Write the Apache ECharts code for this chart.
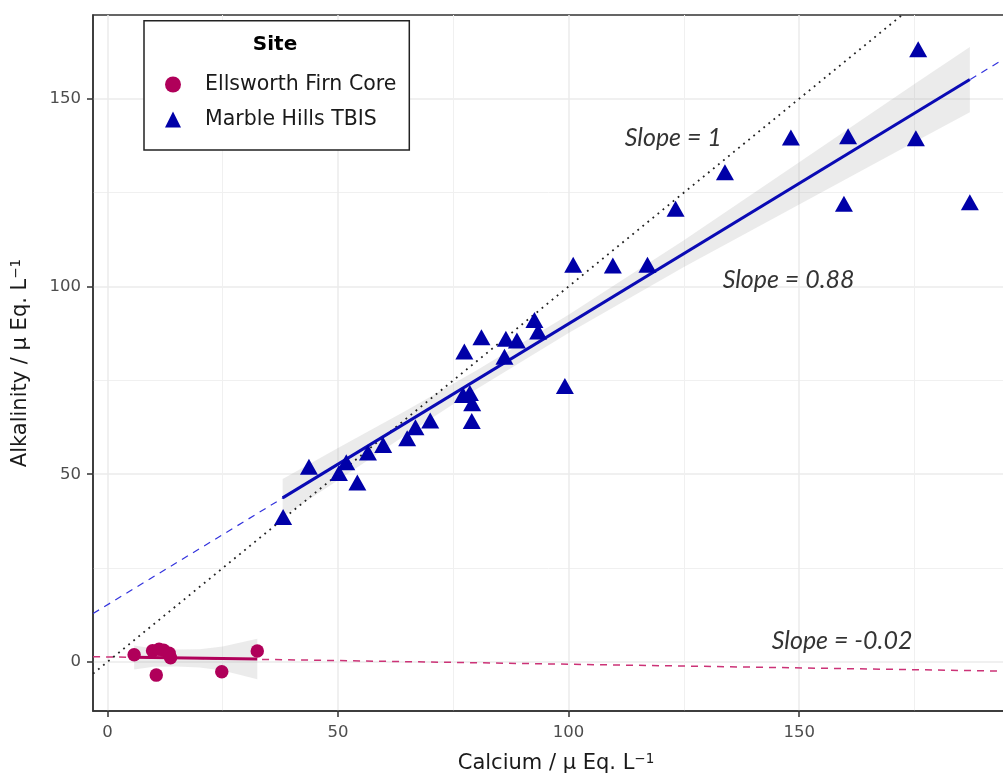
<!DOCTYPE html>
<html>
<head>
<meta charset="utf-8">
<script src="https://cdn.jsdelivr.net/npm/echarts@6/dist/echarts.min.js"></script>
<style>
html,body{margin:0;padding:0;background:#fff}
#chart{width:1003px;height:776px}
</style>
</head>
<body>
<div id="chart"></div>
<script>
// Ellsworth Firn Core samples
var firnCa  = [5.8, 9.8, 11.2, 12.2, 13.4, 13.7, 10.6, 24.8, 32.5];
var firnAlk = [1.9, 3.0, 3.4, 3.1, 2.3, 1.1, -3.5, -2.6, 2.9];

// Marble Hills TBIS samples
var tbisCa  = [38.1, 43.7, 51.8, 50.2, 54.2, 56.5, 59.8, 65.0, 66.8, 70.0, 77.4, 81.1, 77.1, 78.6, 79.1, 79.0,
               86.1, 86.4, 88.8, 92.6, 93.4, 99.2, 101.0, 109.6, 117.1, 123.2, 133.9, 148.2, 160.6, 159.7, 175.3, 175.8, 187.0];
var tbisAlk = [38.6, 52.0, 53.2, 50.3, 47.8, 55.8, 57.8, 59.6, 62.5, 64.3, 82.7, 86.5, 71.1, 71.6, 68.9, 64.2,
               81.3, 86.1, 85.6, 91.1, 88.0, 73.5, 105.8, 105.6, 105.8, 120.7, 130.4, 139.7, 140.0, 122.0, 139.5, 163.2, 122.4];

// fitted lines (solid over the data, dashed extension across the panel)
var firnFitX = [5.8, 32.5],   firnFitY = [1.25, 0.8];
var firnExtX = [-3.1, 197.6], firnExtY = [1.4, -2.5];
var tbisFitX = [38, 187],     tbisFitY = [43.7, 155.1];
var tbisExtX = [-3.1, 197.6], tbisExtY = [12.9, 163.0];
var oneX = [-3.1, 172.3],     oneY = [-3.1, 172.3];

// confidence bands
var firnBandX    = [5.8, 10, 15, 20, 25, 32.5];
var firnBandLow  = [-2.0, -1.3, -1.2, -1.5, -2.3, -4.6];
var firnBandHigh = [4.4, 3.6, 3.3, 3.4, 4.1, 6.2];
var tbisBandX    = [38, 50, 65, 80, 100, 125, 148, 175, 187];
var tbisBandLow  = [38.7, 48.4, 60.7, 72.6, 87.6, 105.2, 120.5, 138.5, 146.4];
var tbisBandHigh = [48.7, 57.0, 67.1, 77.6, 92.5, 112.3, 131.4, 153.9, 163.8];

// slope annotations
var noteX = [122.7, 147.7, 159.3];
var noteY = [139.6, 101.8, 5.6];
var noteText = ['Slope = 1', 'Slope = 0.88', 'Slope = -0.02'];

var xTicks = [0, 50, 100, 150];
var yTicks = [0, 50, 100, 150];

var FIRN = '#b0005a', TBIS = '#0000a8';
var FONT = 'DejaVu Sans';

function pairs(xs, ys) {
  return xs.map(function (x, i) { return [x, ys[i]]; });
}

function band(xs, lo, hi) {
  return function (params, api) {
    var pts = [];
    for (var i = 0; i < xs.length; i++) pts.push(api.coord([xs[i], hi[i]]));
    for (var j = xs.length - 1; j >= 0; j--) pts.push(api.coord([xs[j], lo[j]]));
    return {type: 'polygon', shape: {points: pts}, style: {fill: 'rgba(150,150,150,0.19)'}};
  };
}

function lineSeries(xs, ys, color, width, type, z) {
  return {
    type: 'line', data: pairs(xs, ys), symbol: 'none', silent: true, z: z,
    lineStyle: {color: color, width: width, type: type}
  };
}

var supStyle = {fontFamily: FONT, fontSize: 13.5, color: '#1a1a1a', verticalAlign: 'bottom', padding: [0, 0, 10, 0]};

var chart = echarts.init(document.getElementById('chart'));

chart.setOption({
  animation: false,
  grid: {left: 93, top: 15, width: 926, height: 696, outerBoundsMode: 'none',
         show: true, borderColor: '#333', borderWidth: 1.5},
  xAxis: {
    type: 'value', min: -3.12, max: 197.66, minInterval: 50, maxInterval: 50,
    name: 'Calcium / µ Eq. L{sup|−1}', nameLocation: 'middle', nameGap: 41,
    nameTextStyle: {fontFamily: FONT, fontSize: 21, color: '#1a1a1a', rich: {sup: supStyle}},
    axisLine: {show: true, onZero: false, lineStyle: {color: '#333', width: 1.5}},
    axisTick: {show: true, length: 6, customValues: xTicks, lineStyle: {color: '#333', width: 1.5}},
    axisLabel: {customValues: xTicks, margin: 13, fontFamily: FONT, fontSize: 16.5, color: '#4d4d4d'},
    splitLine: {lineStyle: {color: '#ebebeb', width: 1.5}},
    minorTick: {show: false, splitNumber: 2},
    minorSplitLine: {show: true, lineStyle: {color: '#f0f0f0', width: 1}}
  },
  yAxis: {
    type: 'value', min: -13.06, max: 172.3, minInterval: 50, maxInterval: 50,
    name: 'Alkalinity / µ Eq. L{sup|−1}', nameLocation: 'middle', nameGap: 60, nameRotate: 90,
    nameTextStyle: {fontFamily: FONT, fontSize: 21, color: '#1a1a1a', rich: {sup: supStyle}},
    axisLine: {show: true, onZero: false, lineStyle: {color: '#333', width: 1.5}},
    axisTick: {show: true, length: 6, customValues: yTicks, lineStyle: {color: '#333', width: 1.5}},
    axisLabel: {customValues: yTicks, margin: 12, fontFamily: FONT, fontSize: 16.5, color: '#4d4d4d'},
    splitLine: {lineStyle: {color: '#ebebeb', width: 1.5}},
    minorTick: {show: false, splitNumber: 2},
    minorSplitLine: {show: true, lineStyle: {color: '#f0f0f0', width: 1}}
  },
  legend: {
    data: ['Ellsworth Firn Core', 'Marble Hills TBIS'],
    orient: 'vertical', left: 160, top: 69, itemWidth: 16, itemHeight: 16, itemGap: 14, z: 20,
    textStyle: {fontFamily: FONT, fontSize: 20.5, color: '#1a1a1a', lineHeight: 20, padding: [0, 0, 0, 19]}
  },
  graphic: [
    {type: 'rect', z: 15, shape: {x: 144, y: 20.7, width: 265.3, height: 129.3},
     style: {fill: '#fff', stroke: '#222', lineWidth: 1.5}},
    {type: 'text', z: 16, style: {text: 'Site', x: 275, y: 45, align: 'center', verticalAlign: 'middle',
     font: 'bold 20px "DejaVu Sans"', fill: '#000'}}
  ],
  series: [
    {type: 'custom', silent: true, z: 1, data: [[0, 0]], renderItem: band(firnBandX, firnBandLow, firnBandHigh)},
    {type: 'custom', silent: true, z: 1, data: [[0, 0]], renderItem: band(tbisBandX, tbisBandLow, tbisBandHigh)},
    lineSeries(firnExtX, firnExtY, '#cc3377', 1.5, [7, 6], 2),
    lineSeries(tbisExtX, tbisExtY, '#3333dd', 1.2, [7, 6], 2),
    lineSeries(oneX, oneY, '#222', 1.8, [1.8, 4.7], 2),
    lineSeries(firnFitX, firnFitY, FIRN, 3, 'solid', 3),
    lineSeries(tbisFitX, tbisFitY, '#0a0ab4', 3, 'solid', 3),
    {
      name: 'Ellsworth Firn Core', type: 'scatter', data: pairs(firnCa, firnAlk), z: 4,
      symbol: 'circle', symbolSize: 13.5, itemStyle: {color: FIRN, opacity: 1}
    },
    {
      name: 'Marble Hills TBIS', type: 'scatter', data: pairs(tbisCa, tbisAlk), z: 4,
      symbol: 'triangle', symbolSize: [18, 16], itemStyle: {color: TBIS, opacity: 1}
    },
    {
      type: 'scatter', silent: true, z: 5, symbolSize: 1, itemStyle: {color: 'transparent'},
      data: noteX.map(function (x, i) { return {value: [x, noteY[i]], name: noteText[i]}; }),
      label: {show: true, position: 'inside', formatter: '{b}', fontFamily: 'Lato', fontStyle: 'italic',
              fontSize: 25, color: '#000'}
    }
  ]
});
</script>
</body>
</html>
